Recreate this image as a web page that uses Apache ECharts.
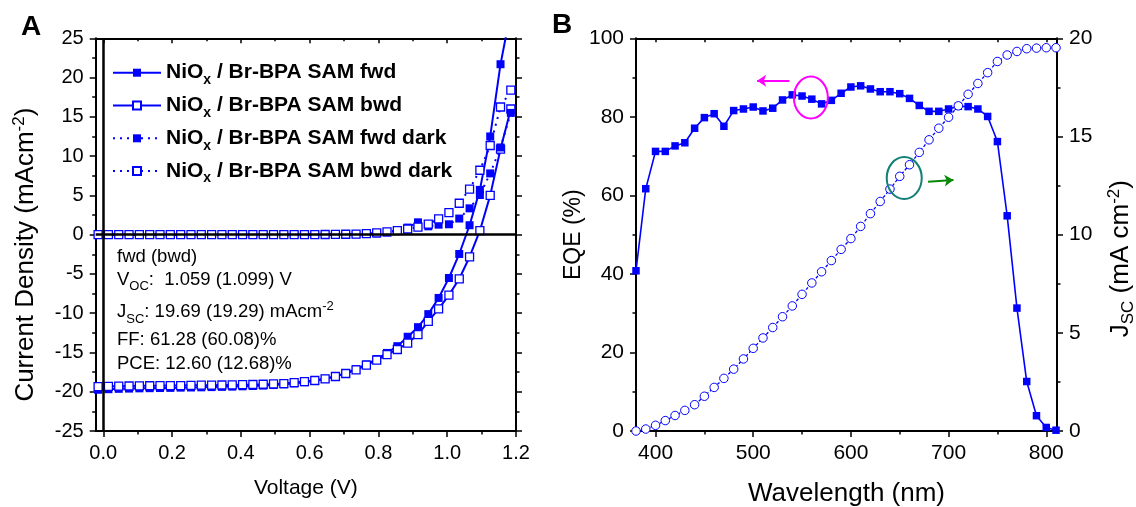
<!DOCTYPE html>
<html>
<head>
<meta charset="utf-8">
<title>J-V and EQE</title>
<script src="https://cdn.jsdelivr.net/npm/echarts@6.0.0/dist/echarts.min.js"></script>
<style>
  html, body { margin: 0; padding: 0; background: #fff; }
  #chart { width: 1136px; height: 507px; }
</style>
</head>
<body>
<div id="chart"></div>
<script>
// ---- panel A : J-V sweeps ----
const voltage = [-0.015, 0.015, 0.045, 0.075, 0.105, 0.135, 0.165, 0.195, 0.225, 0.255,
  0.285, 0.315, 0.345, 0.375, 0.405, 0.435, 0.465, 0.495, 0.525, 0.555,
  0.585, 0.615, 0.645, 0.675, 0.705, 0.735, 0.765, 0.795, 0.825, 0.855,
  0.885, 0.915, 0.945, 0.975, 1.005, 1.035, 1.065, 1.095, 1.125, 1.155, 1.185];
const lightFwd = [-19.75, -19.68, -19.63, -19.60, -19.57, -19.55, -19.53, -19.51, -19.48, -19.46,
  -19.44, -19.41, -19.38, -19.35, -19.31, -19.27, -19.22, -19.15, -19.06, -18.94,
  -18.79, -18.60, -18.36, -18.04, -17.62, -17.12, -16.52, -15.84, -15.06, -14.2,
  -13.0, -11.78, -10.12, -8.06, -5.52, -2.46, 1.2, 5.7, 12.5, 21.7, 28.5];
const lightBwd = [-19.34, -19.31, -19.29, -19.27, -19.25, -19.24, -19.23, -19.22, -19.21, -19.19,
  -19.17, -19.16, -19.14, -19.13, -19.10, -19.08, -19.05, -19.01, -18.96, -18.84,
  -18.71, -18.57, -18.36, -18.06, -17.68, -17.21, -16.62, -15.98, -15.27, -14.62,
  -13.8, -12.72, -11.05, -9.46, -7.7, -5.62, -2.84, 0.5, 5.0, 10.9, 16.0];
const darkFwd = [0.02, 0.01, 0.01, 0, 0, 0, 0, 0, 0, 0,
  0, 0, 0, 0, 0, 0, 0, 0, 0.01, 0.01,
  0.01, 0.02, 0.02, 0.03, 0.04, 0.06, 0.09, 0.15, 0.28, 0.5,
  0.9, 1.57, 1.06, 1.27, 1.32, 2.05, 3.35, 5.05, 7.8, 11.1, 15.5];
const darkBwd = [0, 0, 0, 0, 0, 0, 0, 0, 0, 0,
  0, 0, 0, 0, 0, 0, 0, 0, 0, 0,
  0.01, 0.01, 0.02, 0.03, 0.05, 0.07, 0.12, 0.22, 0.36, 0.52,
  0.72, 0.95, 1.35, 2.0, 2.8, 4.0, 5.8, 8.2, 11.35, 16.25, 18.4];
const jvNames = ['fwd', 'bwd', 'fwd dark', 'bwd dark'];
const voltTicks = [0, 0.2, 0.4, 0.6, 0.8, 1.0, 1.2];
const voltMinor = [0.1, 0.3, 0.5, 0.7, 0.9, 1.1];

// ---- panel B : EQE and integrated Jsc ----
const wavelength = [380, 390, 400, 410, 420, 430, 440, 450, 460, 470, 480, 490, 500, 510, 520,
  530, 540, 550, 560, 570, 580, 590, 600, 610, 620, 630, 640, 650, 660, 670, 680, 690, 700,
  710, 720, 730, 740, 750, 760, 770, 780, 790, 800, 810];
const eqe = [40.8, 61.7, 71.2, 71.2, 72.6, 73.4, 77.1, 79.8, 80.8, 77.6, 81.6, 82.0, 82.5, 81.5, 82.2,
  84.3, 85.6, 85.3, 84.5, 83.3, 84.2, 86.0, 87.6, 87.9, 87.1, 86.4, 86.4, 85.9, 84.7, 82.9, 81.4, 81.4, 82.0,
  82.7, 82.6, 82.0, 80.1, 73.7, 54.8, 31.3, 12.6, 3.9, 0.9, 0.2];
const jscInt = [0.0, 0.1, 0.29, 0.53, 0.79, 1.05, 1.34, 1.77, 2.22, 2.68, 3.15, 3.67, 4.21, 4.74, 5.27,
  5.82, 6.37, 6.96, 7.54, 8.11, 8.68, 9.25, 9.8, 10.42, 11.07, 11.69, 12.32, 12.97, 13.56, 14.19, 14.83, 15.42, 15.98,
  16.56, 17.15, 17.7, 18.25, 18.82, 19.15, 19.33, 19.47, 19.5, 19.52, 19.52];
const waveTicks = [400, 500, 600, 700, 800];
const waveMinor = [450, 550, 650, 750];
const waveTop = [400, 450, 500, 550, 600, 650, 700, 750, 800];

// annotation anchors (wavelength, EQE)
const pinkRing = [559, 84.9];
const tealRing = [654.6, 64.4];
const pinkArrow = [[537, 89.2], [504, 89.2]];
const greenArrow = [[679, 63.5], [705, 63.9]];

const blue = '#0000ff';
const FONT = '"Liberation Sans", Arial, sans-serif';
const tickStyle = { color: '#000', width: 1.5 };

function frame() {
    return { show: true, onZero: false, lineStyle: { color: '#000', width: 2 } };
}
function labelStyle(extra) {
    return Object.assign({ fontSize: 20, color: '#000', fontFamily: FONT, margin: 12 }, extra || {});
}
function overlayX(grid, pos, min, max, values, len, inside) {
    return {
        gridIndex: grid, type: 'value', position: pos, min: min, max: max,
        axisLine: { show: false, onZero: false }, splitLine: { show: false },
        axisTick: { customValues: values, length: len, inside: !!inside, lineStyle: tickStyle },
        axisLabel: { show: false }
    };
}
function jvSeries(name, ys, filled, dotted) {
    return {
        name: name, type: 'line', xAxisIndex: 0, yAxisIndex: 0, z: 3,
        data: voltage.map((v, i) => [v, ys[i]]),
        symbol: 'rect', symbolSize: 8,
        itemStyle: { color: filled ? blue : '#fff', borderColor: blue, borderWidth: filled ? 0 : 1.3 },
        lineStyle: { color: blue, width: 2, type: dotted ? [2, 5] : 'solid' },
        emphasis: { disabled: true }
    };
}

const chart = echarts.init(document.getElementById('chart'));

const option = {
    animation: false,
    textStyle: { fontFamily: FONT },
    grid: [
        { left: 95.7, top: 38.3, width: 420.3, height: 392.7, outerBoundsMode: 'none', containLabel: false },
        { left: 636, top: 38.3, width: 421, height: 392.7, outerBoundsMode: 'none', containLabel: false }
    ],
    legend: {
        orient: 'vertical', left: 112, top: 58.2, padding: 0,
        itemWidth: 48, itemHeight: 10, itemGap: 3.8,
        selectedMode: false,
        data: jvNames,
        formatter: n => 'NiO{s|x} / Br-BPA SAM ' + n,
        textStyle: {
            fontSize: 21, fontWeight: 'bold', color: '#000', fontFamily: FONT, lineHeight: 22,
            rich: { s: { fontSize: 14, fontWeight: 'bold', padding: [15, 0, 0, 0], lineHeight: 22 } }
        }
    },
    xAxis: [
        {
            gridIndex: 0, type: 'value', position: 'bottom', min: -0.022, max: 1.2,
            axisLine: frame(), splitLine: { show: false },
            axisTick: { customValues: voltTicks, length: 6, lineStyle: tickStyle },
            axisLabel: labelStyle({ customValues: voltTicks, formatter: v => v.toFixed(1) }),
            name: 'Voltage (V)', nameLocation: 'middle', nameGap: 47,
            nameTextStyle: { fontSize: 21, color: '#000', fontFamily: FONT }
        },
        overlayX(0, 'bottom', -0.022, 1.2, voltMinor, 3.5),
        {
            gridIndex: 0, type: 'value', position: 'top', min: -0.022, max: 1.2,
            axisLine: frame(), splitLine: { show: false },
            axisTick: { customValues: voltTicks, length: 5, inside: true, lineStyle: tickStyle },
            axisLabel: { show: false }
        },
        overlayX(0, 'top', -0.022, 1.2, voltMinor, 3, true),
        {
            gridIndex: 1, type: 'value', position: 'bottom', min: 380, max: 811,
            axisLine: frame(), splitLine: { show: false },
            axisTick: { customValues: waveTicks, length: 6, lineStyle: tickStyle },
            axisLabel: labelStyle({ customValues: waveTicks, fontSize: 21 }),
            name: 'Wavelength (nm)', nameLocation: 'middle', nameGap: 50,
            nameTextStyle: { fontSize: 26, color: '#000', fontFamily: FONT }
        },
        overlayX(1, 'bottom', 380, 811, waveMinor, 3.5),
        {
            gridIndex: 1, type: 'value', position: 'top', min: 380, max: 811,
            axisLine: frame(), splitLine: { show: false },
            axisTick: { customValues: waveTop, length: 4, inside: true, lineStyle: tickStyle },
            axisLabel: { show: false }
        }
    ],
    yAxis: [
        {
            gridIndex: 0, type: 'value', position: 'left', min: -25, max: 25, interval: 5,
            axisLine: frame(), splitLine: { show: false },
            axisTick: { length: 6, lineStyle: tickStyle },
            minorTick: { show: true, splitNumber: 2, length: 3.5, lineStyle: tickStyle },
            axisLabel: labelStyle(),
            name: 'Current Density (mAcm{p|-2})', nameLocation: 'middle', nameGap: 55,
            nameTextStyle: {
                fontSize: 26, color: '#000', fontFamily: FONT, padding: [0, 40, 0, 0],
                rich: { p: { fontSize: 17, padding: [0, 0, 13, 0], lineHeight: 30 } }
            }
        },
        {
            gridIndex: 0, type: 'value', position: 'right', min: -25, max: 25, interval: 5,
            axisLine: frame(), splitLine: { show: false },
            axisTick: { length: 6, lineStyle: tickStyle },
            minorTick: { show: true, splitNumber: 2, length: 3.5, lineStyle: tickStyle },
            axisLabel: { show: false }
        },
        {
            gridIndex: 1, type: 'value', position: 'left', min: 0, max: 100, interval: 20,
            axisLine: frame(), splitLine: { show: false },
            axisTick: { length: 6, lineStyle: tickStyle },
            minorTick: { show: true, splitNumber: 2, length: 3.5, lineStyle: tickStyle },
            axisLabel: labelStyle({ fontSize: 21 }),
            name: 'EQE (%)', nameLocation: 'middle', nameGap: 38,
            nameTextStyle: { fontSize: 23, color: '#000', fontFamily: FONT }
        },
        {
            gridIndex: 1, type: 'value', position: 'right', min: 0, max: 20, interval: 5,
            axisLine: frame(), splitLine: { show: false },
            axisTick: { length: 6, lineStyle: tickStyle },
            minorTick: { show: true, splitNumber: 2, length: 3.5, lineStyle: tickStyle },
            axisLabel: labelStyle({ fontSize: 21 }),
            name: 'J{s|SC} (mA cm{p|-2})', nameLocation: 'middle', nameGap: 49, nameRotate: 90,
            nameTextStyle: {
                fontSize: 26, color: '#000', fontFamily: FONT, padding: [0, 48, 0, 0],
                rich: {
                    s: { fontSize: 17, padding: [15, 0, 0, 0], lineHeight: 30 },
                    p: { fontSize: 17, padding: [0, 0, 13, 0], lineHeight: 30 }
                }
            }
        }
    ],
    series: [
        // black zero lines of panel A
        {
            type: 'line', xAxisIndex: 0, yAxisIndex: 0, data: [], z: 2, silent: true,
            markLine: {
                silent: true, symbol: 'none', label: { show: false }, animation: false,
                lineStyle: { color: '#000', width: 2.5, type: 'solid' },
                data: [{ xAxis: 0 }, { yAxis: 0 }]
            }
        },
        jvSeries('fwd', lightFwd, true, false),
        jvSeries('bwd', lightBwd, false, false),
        jvSeries('fwd dark', darkFwd, true, true),
        jvSeries('bwd dark', darkBwd, false, true),
        {
            name: 'EQE', type: 'line', xAxisIndex: 4, yAxisIndex: 2, z: 3,
            data: wavelength.map((w, i) => [w, eqe[i]]),
            symbol: 'rect', symbolSize: 7.5,
            itemStyle: { color: blue },
            lineStyle: { color: blue, width: 1.6 },
            emphasis: { disabled: true }
        },
        {
            name: 'Jsc', type: 'line', xAxisIndex: 4, yAxisIndex: 3, z: 4,
            data: wavelength.map((w, i) => [w, jscInt[i]]),
            symbol: 'circle', symbolSize: 8.5,
            itemStyle: { color: '#fff', borderColor: blue, borderWidth: 1 },
            lineStyle: { color: blue, width: 1.3, type: [3, 2] },
            emphasis: { disabled: true }
        },
        // arrows pointing to the axes
        {
            type: 'line', xAxisIndex: 4, yAxisIndex: 2, data: [], z: 5, silent: true,
            markLine: {
                silent: true, symbol: ['none', 'arrow'], symbolSize: 9, label: { show: false }, animation: false,
                data: [
                    [{ coord: pinkArrow[0], lineStyle: { color: '#ff00ff', width: 2, type: 'solid' } }, { coord: pinkArrow[1] }],
                    [{ coord: greenArrow[0], lineStyle: { color: '#0a880a', width: 2, type: 'solid' } }, { coord: greenArrow[1] }]
                ]
            }
        }
    ]
};
chart.setOption(option);

// texts and rings
const finderB = { xAxisIndex: 4, yAxisIndex: 2 };
const pinkC = chart.convertToPixel(finderB, pinkRing);
const tealC = chart.convertToPixel(finderB, tealRing);
const boxRich = {
    s: { fontSize: 13, padding: [14, 0, 0, 0], lineHeight: 22 },
    p: { fontSize: 13, padding: [0, 0, 12, 0], lineHeight: 22 }
};
function boxLine(txt, y) {
    return {
        type: 'text', x: 117, y: y, z: 10,
        style: { text: txt, fontSize: 18.5, fontFamily: FONT, fill: '#000', verticalAlign: 'middle', rich: boxRich }
    };
}
chart.setOption({
    graphic: [
        { type: 'text', x: 21, y: 27, style: { text: 'A', fontSize: 28, fontWeight: 'bold', fontFamily: FONT, fill: '#000', verticalAlign: 'middle' } },
        { type: 'text', x: 552, y: 25, style: { text: 'B', fontSize: 28, fontWeight: 'bold', fontFamily: FONT, fill: '#000', verticalAlign: 'middle' } },
        boxLine('fwd (bwd)', 256.5),
        boxLine('V{s|OC}:  1.059 (1.099) V', 279.5),
        boxLine('J{s|SC}: 19.69 (19.29) mAcm{p|-2}', 312),
        boxLine('FF: 61.28 (60.08)%', 340),
        boxLine('PCE: 12.60 (12.68)%', 364),
        {
            type: 'ellipse', z: 10, silent: true,
            shape: { cx: pinkC[0], cy: pinkC[1], rx: 17, ry: 21 },
            style: { fill: 'none', stroke: '#ff00ff', lineWidth: 2 }
        },
        {
            type: 'ellipse', z: 10, silent: true,
            shape: { cx: tealC[0], cy: tealC[1], rx: 17.5, ry: 21 },
            style: { fill: 'none', stroke: '#128077', lineWidth: 2 }
        }
    ]
});
</script>
</body>
</html>
